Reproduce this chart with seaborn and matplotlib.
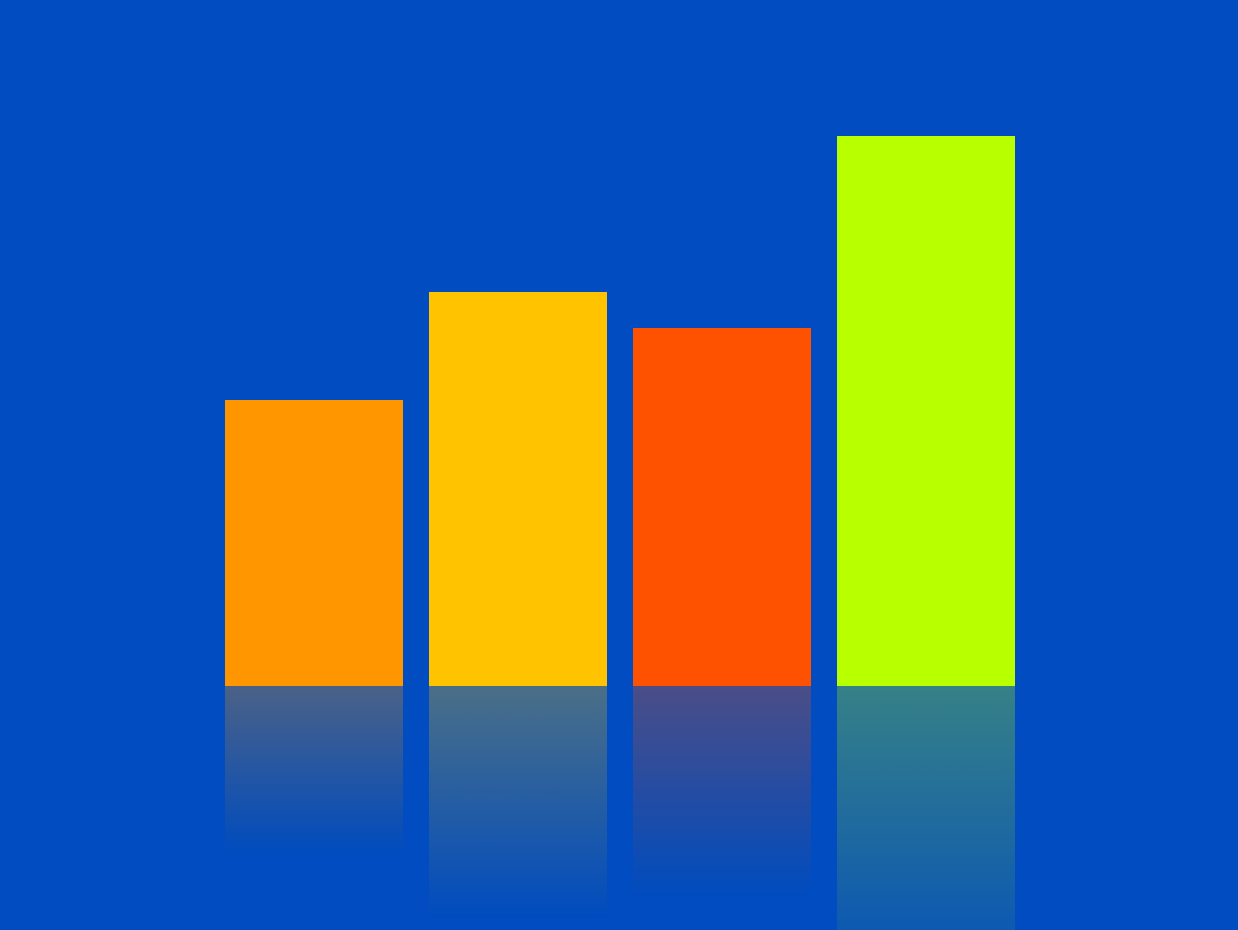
import numpy as np
import pandas as pd
import matplotlib
matplotlib.use('Agg')
import matplotlib.pyplot as plt
import seaborn as sns

# dados
categorias = ['A', 'B', 'C', 'D']
valores = [52, 71.6, 65, 100]
cores = ['#FF9600', '#FFC300', '#FF5200', '#B8FF00']

fundo = '#004CC0'
reflexo_frac = 0.6
reflexo_alpha = 0.3

df = pd.DataFrame({'cat': categorias, 'valor': valores})

sns.set_style('white')
fig = plt.figure(figsize=(12.38, 9.3), dpi=100, facecolor=fundo)
ax = fig.add_axes([0, 0, 1, 1])
ax.set_facecolor(fundo)

sns.barplot(data=df, x='cat', y='valor', hue='cat', palette=cores,
            legend=False, width=0.87, saturation=1, linewidth=0, ax=ax)

# reflexos com gradiente abaixo de cada barra
for patch, cor in zip(ax.patches, cores):
    x0 = patch.get_x()
    x1 = x0 + patch.get_width()
    h = patch.get_height()
    rgba = np.zeros((256, 1, 4))
    rgba[:, 0, :3] = matplotlib.colors.to_rgb(cor)
    rgba[:, 0, 3] = np.linspace(0, reflexo_alpha, 256)
    ax.imshow(rgba, extent=[x0, x1, -reflexo_frac * h, 0], origin='lower',
              aspect='auto', interpolation='bilinear', zorder=1)

ax.set_xlim(-1.54, 4.53)
ax.set_ylim(-44.4, 124.7)
ax.axis('off')

fig.savefig('out.png', dpi=100, facecolor=fundo)
plt.close(fig)
